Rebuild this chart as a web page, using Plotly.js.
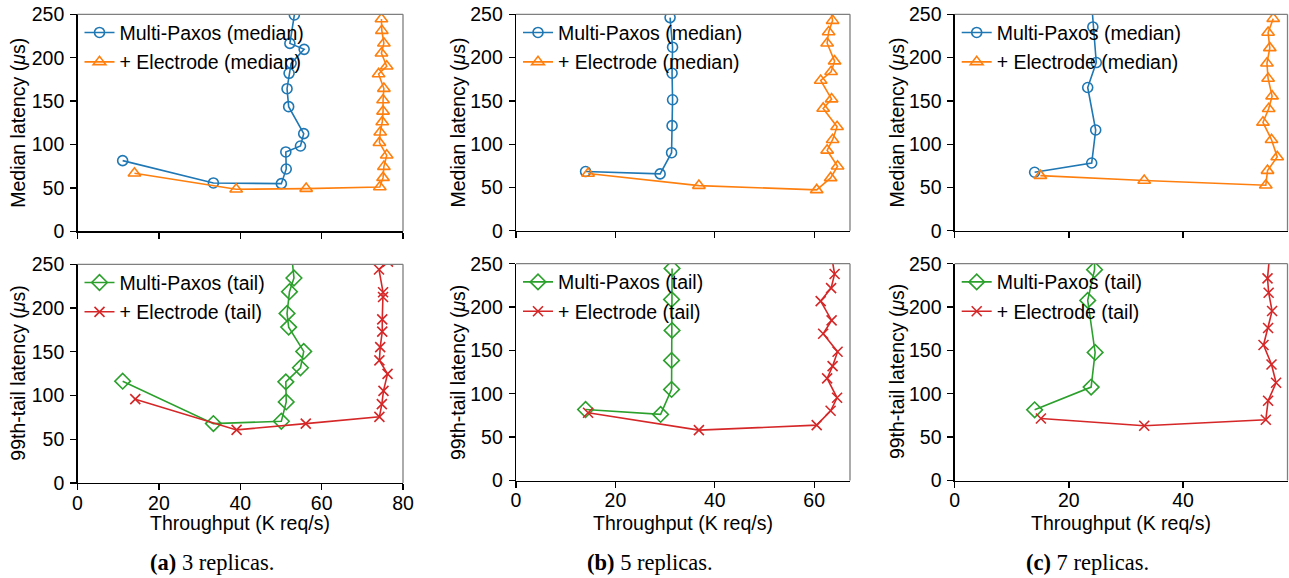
<!DOCTYPE html>
<html>
<head>
<meta charset="utf-8">
<script src="https://cdn.plot.ly/plotly-3.0.1.min.js"></script>
<style>html,body{margin:0;padding:0;background:#fff;}#chart{width:1289px;height:578px;}</style>
</head>
<body>
<div id="chart"></div>
<script>
// ---------- data (throughput in K req/s, latency in µs) ----------
// (a) 3 replicas
const a_mpMed_x = [11.1, 33.4, 50.1, 51.3, 51.2, 54.8, 55.6, 51.9, 51.5, 52.0, 52.5, 55.7, 52.2, 53.3];
const a_mpMed_y = [81.4, 55.7, 54.9, 71.8, 91.4, 98.3, 112.5, 143.6, 164.3, 182.0, 193.5, 209.6, 216.5, 249.2];
const a_elMed_x = [14.0, 39.0, 56.2, 74.3, 75.1, 75.3, 76.0, 74.2, 74.4, 74.9, 75.1, 75.1, 75.3, 74.0, 76.0, 74.7, 75.3, 74.8, 74.7];
const a_elMed_y = [66.8, 48.4, 49.2, 51.1, 61.8, 74.5, 87.6, 102.1, 114.1, 126.0, 138.2, 151.3, 164.4, 181.3, 190.1, 205.1, 216.6, 231.2, 244.6];
const a_mpTail_x = [11.1, 33.4, 50.1, 51.3, 51.2, 54.8, 55.6, 51.9, 51.5, 52.1, 53.2, 52.6];
const a_mpTail_y = [116.4, 67.9, 70.6, 92.7, 115.6, 131.7, 150.4, 178.2, 193.9, 218.7, 234.4, 262];
const a_elTail_x = [14.2, 39.1, 56.1, 74.2, 74.8, 75.2, 76.2, 74.2, 74.4, 74.9, 74.9, 75.1, 75.1, 74.1, 76.3];
const a_elTail_y = [95.8, 60.7, 67.9, 75.6, 90.1, 105.3, 124.8, 140.1, 155.3, 173.0, 187.0, 212.6, 218.0, 244.0, 253.0];
// (b) 5 replicas
const b_mpMed_x = [14.0, 29.0, 31.3, 31.4, 31.5, 31.4, 31.5, 31.0];
const b_mpMed_y = [68.4, 65.7, 90.2, 121.4, 151.3, 182.0, 212.0, 246.2];
const b_elMed_x = [14.5, 36.8, 60.5, 63.3, 64.7, 62.6, 63.7, 64.6, 61.8, 63.5, 61.3, 63.4, 64.1, 62.6, 62.9, 63.7, 63.2];
const b_elMed_y = [66.1, 52.2, 47.2, 61.1, 74.5, 92.9, 105.2, 120.2, 141.3, 152.1, 173.6, 183.6, 195.9, 216.6, 229.6, 242.7, 258];
const b_mpTail_x = [14.0, 29.1, 31.3, 31.3, 31.4, 31.3, 31.4];
const b_mpTail_y = [81.9, 76.2, 105.0, 138.5, 173.1, 208.8, 244.6];
const b_elTail_x = [14.5, 36.8, 60.5, 63.3, 64.6, 62.6, 63.7, 64.7, 61.8, 63.5, 61.3, 63.4, 64.1, 63.4];
const b_elTail_y = [78.1, 58.1, 63.8, 80.4, 95.4, 117.7, 131.9, 148.5, 169.2, 184.6, 206.9, 221.9, 238.1, 262];
// (c) 7 replicas
const c_mpMed_x = [14.0, 24.0, 24.7, 23.3, 24.8, 24.2, 24.0];
const c_mpMed_y = [67.6, 78.3, 116.4, 165.5, 194.3, 235.4, 262];
const c_elMed_x = [15.0, 33.2, 54.5, 54.8, 56.5, 55.5, 54.0, 55.0, 55.6, 54.9, 54.7, 55.2, 54.9, 55.8];
const c_elMed_y = [63.7, 58.0, 52.6, 69.5, 85.3, 105.2, 125.2, 140.9, 155.5, 175.9, 193.5, 211.2, 228.9, 245.0];
const c_mpTail_x = [14.0, 23.9, 24.6, 23.3, 24.5, 24.5];
const c_mpTail_y = [81.5, 107.7, 147.7, 207.7, 243.1, 262];
const c_elTail_x = [15.1, 33.2, 54.5, 54.9, 56.3, 55.5, 54.1, 54.9, 55.6, 55.0, 54.8, 55.2];
const c_elTail_y = [71.5, 63.1, 70.0, 91.9, 112.7, 133.8, 156.2, 175.8, 195.4, 216.5, 233.1, 262];

const seriesNames = ["Multi-Paxos (median)", "+ Electrode (median)", "Multi-Paxos (tail)", "+ Electrode (tail)"];
const xRanges = [[0, 80], [0, 67.2], [0, 58.3]];
const yRange = [0, 250];
const xTickStep = 20;
const yTickStep = 50;
const captions = ["<b>(a)</b> 3 replicas.", "<b>(b)</b> 5 replicas.", "<b>(c)</b> 7 replicas."];
const xTitle = "Throughput (K req/s)";
const yTitleTop = "Median latency (<i>μ</i>s)";
const yTitleBottom = "99th-tail latency (<i>μ</i>s)";

// ---------- styling ----------
const FONT = "Liberation Sans, Arial, Helvetica, sans-serif";
const FS = 19.5;
const W = 1289, H = 578;
const colors = ["#1f77b4", "#ff7f0e", "#2ca02c", "#d62728"];
const symbols = ["circle-open", "triangle-up-open", "diamond-open", "x-thin-open"];
const msize = [10, 11, 12, 10];

// pixel geometry of plot areas
const colPx = [[77.5, 403], [516, 850], [954.7, 1287.5]];
const topPx = [[14.3, 231.3], [14.3, 230.8], [14.3, 230.8]];
const botPx = [[264.3, 483], [263.7, 480.5], [263.7, 480.5]];

const panels = [
  [[a_mpMed_x, a_mpMed_y], [a_elMed_x, a_elMed_y], [a_mpTail_x, a_mpTail_y], [a_elTail_x, a_elTail_y]],
  [[b_mpMed_x, b_mpMed_y], [b_elMed_x, b_elMed_y], [b_mpTail_x, b_mpTail_y], [b_elTail_x, b_elTail_y]],
  [[c_mpMed_x, c_mpMed_y], [c_elMed_x, c_elMed_y], [c_mpTail_x, c_mpTail_y], [c_elTail_x, c_elTail_y]]
];

const traces = [];
const layout = {
  width: W, height: H,
  margin: {l: 0, r: 0, t: 0, b: 0},
  paper_bgcolor: "#fff", plot_bgcolor: "#fff",
  font: {family: FONT, size: FS, color: "#000"},
  showlegend: true,
  annotations: [], shapes: []
};

function axCommon() {
  return {
    showgrid: false, zeroline: false, showline: true, linecolor: "#000", linewidth: 1.3,
    ticks: "outside", ticklen: 6, tickwidth: 1.3, tickcolor: "#000",
    tickfont: {family: FONT, size: FS, color: "#000"}, mirror: false, fixedrange: true
  };
}

let sp = 0;
for (let p = 0; p < 3; p++) {
  for (let row = 0; row < 2; row++) {
    sp++;
    const xa = sp === 1 ? "xaxis" : "xaxis" + sp;
    const ya = sp === 1 ? "yaxis" : "yaxis" + sp;
    const xr = sp === 1 ? "x" : "x" + sp;
    const yr = sp === 1 ? "y" : "y" + sp;
    const py = row === 0 ? topPx[p] : botPx[p];
    layout[xa] = Object.assign(axCommon(), {
      domain: [colPx[p][0] / W, colPx[p][1] / W], range: xRanges[p], anchor: yr,
      tick0: 0, dtick: xTickStep, showticklabels: row === 1, ticklabelstandoff: -4
    });
    layout[ya] = Object.assign(axCommon(), {
      domain: [1 - py[1] / H, 1 - py[0] / H], range: yRange, anchor: xr,
      tick0: 0, dtick: yTickStep, ticklabelstandoff: 2
    });
    // top and right frame in grey
    layout.shapes.push({type: "line", xref: xr + " domain", yref: yr + " domain", x0: 0, x1: 1, y0: 1, y1: 1, line: {color: "#7f7f7f", width: 1.3}});
    layout.shapes.push({type: "line", xref: xr + " domain", yref: yr + " domain", x0: 1, x1: 1, y0: 0, y1: 1, line: {color: "#7f7f7f", width: 1.3}});

    const lg = sp === 1 ? "legend" : "legend" + sp;
    layout[lg] = {
      x: (colPx[p][0] + 2) / W, y: 1 - (py[0] - 1) / H, xanchor: "left", yanchor: "top",
      bgcolor: "rgba(0,0,0,0)", borderwidth: 0, font: {family: FONT, size: FS, color: "#000"},
      traceorder: "grouped", tracegroupgap: 1, itemwidth: 30
    };
    for (let k = 0; k < 2; k++) {
      const si = row * 2 + k;
      const d = panels[p][si];
      traces.push({
        type: "scatter", mode: "lines+markers", x: d[0], y: d[1], xaxis: xr, yaxis: yr,
        name: seriesNames[si], legend: lg, legendgroup: "g" + sp + "_" + k,
        line: {color: colors[si], width: 1.6},
        marker: {symbol: symbols[si], size: msize[si], color: colors[si], line: {color: colors[si], width: 1.6}},
        cliponaxis: true, hoverinfo: "skip"
      });
    }
    // y-axis title
    const ytx = [18, 458, 897][p];
    layout.annotations.push({
      text: row === 0 ? yTitleTop : yTitleBottom, xref: "paper", yref: "paper",
      x: ytx / W, y: 1 - ((py[0] + py[1]) / 2) / H, xanchor: "center", yanchor: "middle",
      textangle: -90, showarrow: false, font: {family: FONT, size: FS, color: "#000"}
    });
  }
  // x title
  layout.annotations.push({
    text: xTitle, xref: "paper", yref: "paper",
    x: ((colPx[p][0] + colPx[p][1]) / 2) / W, y: 1 - 523 / H, xanchor: "center", yanchor: "middle",
    showarrow: false, font: {family: FONT, size: FS, color: "#000"}
  });
  // caption
  layout.annotations.push({
    text: captions[p], xref: "paper", yref: "paper",
    x: [212, 650, 1087][p] / W, y: 1 - 562 / H, xanchor: "center", yanchor: "middle",
    showarrow: false, font: {family: "Liberation Serif, Times New Roman, serif", size: 22.5, color: "#000"}
  });
}

Plotly.newPlot("chart", traces, layout, {displayModeBar: false, staticPlot: true});
</script>
</body>
</html>
